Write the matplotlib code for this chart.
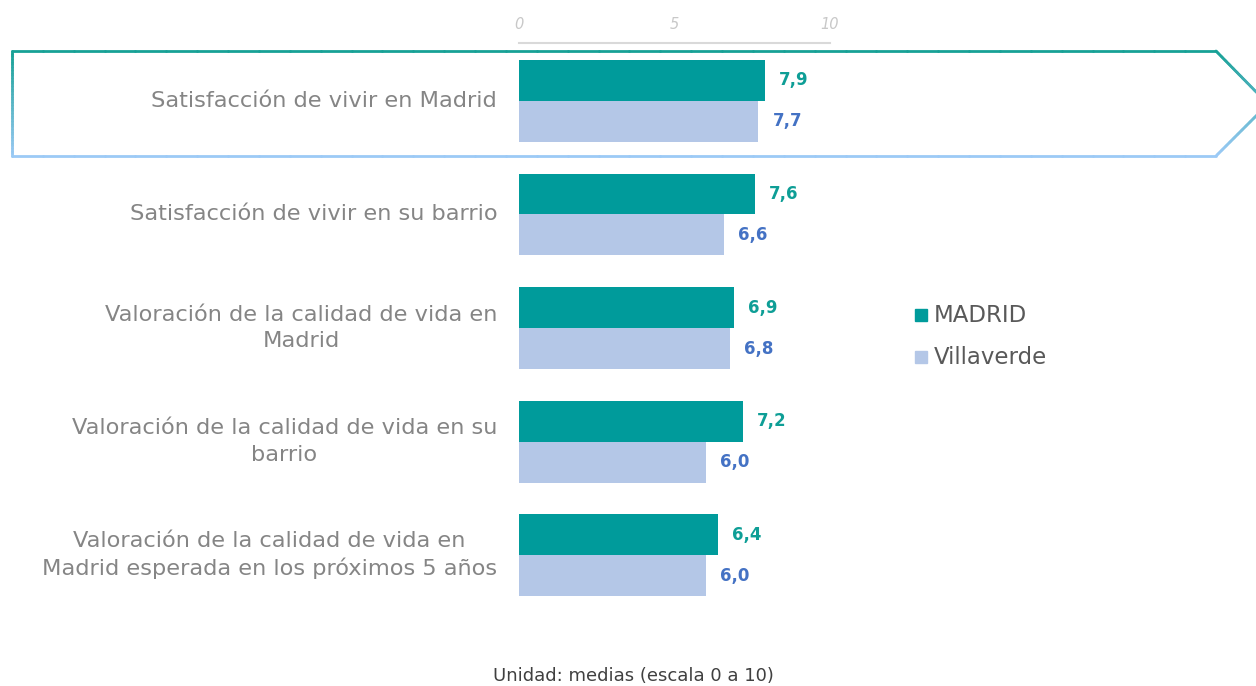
import numpy as np
import matplotlib.pyplot as plt
from matplotlib.collections import LineCollection
from matplotlib.colors import LinearSegmentedColormap
from matplotlib.patches import Rectangle

categories = [
    "Satisfacción de vivir en Madrid",
    "Satisfacción de vivir en su barrio",
    "Valoración de la calidad de vida en\nMadrid",
    "Valoración de la calidad de vida en su\nbarrio",
    "Valoración de la calidad de vida en\nMadrid esperada en los próximos 5 años",
]
madrid = [7.9, 7.6, 6.9, 7.2, 6.4]
villaverde = [7.7, 6.6, 6.8, 6.0, 6.0]
series_names = ["MADRID", "Villaverde"]
ticks = [0, 5, 10]

c_mad = "#009b9b"
c_vil = "#b4c7e7"
c_mad_txt = "#0e9e96"
c_vil_txt = "#4472c4"
FONT = "DejaVu Sans"

W, H = 1256, 686
fig = plt.figure(figsize=(W / 100, H / 100), dpi=100)

# main axes: x 519..830 px, y 43..612 px
ax = fig.add_axes([519 / W, 1 - 612 / H, 311 / W, (612 - 43) / H])
y = np.arange(len(categories))
h = 0.36
ax.barh(y - h / 2, madrid, height=h, color=c_mad, label=series_names[0])
ax.barh(y + h / 2, villaverde, height=h, color=c_vil, label=series_names[1])
ax.set_xlim(0, 10)
ax.set_ylim(4.5, -0.51)

for i, (m, v) in enumerate(zip(madrid, villaverde)):
    ax.text(m + 0.45, i - h / 2, f"{m:.1f}".replace(".", ","), va="center", ha="left",
            color=c_mad_txt, fontsize=12, fontweight="bold", family=FONT, clip_on=False)
    ax.text(v + 0.45, i + h / 2, f"{v:.1f}".replace(".", ","), va="center", ha="left",
            color=c_vil_txt, fontsize=12, fontweight="bold", family=FONT, clip_on=False)
    ax.text(-0.7, i, categories[i], va="center", ha="right", multialignment="center",
            color="#858585", fontsize=16.2, family=FONT, linespacing=1.4, clip_on=False)

ax.set_yticks([])
ax.xaxis.tick_top()
ax.set_xticks(ticks)
ax.set_xticklabels([str(t) for t in ticks], fontstyle="italic", color="#c8c8c8",
                   fontsize=10.5, family=FONT)
ax.tick_params(axis="x", length=0, pad=8)
for s in ["right", "bottom", "left"]:
    ax.spines[s].set_visible(False)
ax.spines["top"].set_color("#d9d9d9")
ax.spines["top"].set_linewidth(1.5)

# highlight frame around first category (gradient teal -> light blue)
ov = fig.add_axes([0, 0, 1, 1])
ov.set_xlim(0, W)
ov.set_ylim(H, 0)
ov.axis("off")
ov.patch.set_alpha(0)
pts = np.array([[12, 51], [1216, 51], [1268, 104], [1216, 156], [12, 156], [12, 51]], dtype=float)
segs = []
cols = []
for a, b in zip(pts[:-1], pts[1:]):
    tt = np.linspace(0, 1, 40)
    for t0, t1 in zip(tt[:-1], tt[1:]):
        p0 = a + (b - a) * t0
        p1 = a + (b - a) * t1
        segs.append([p0, p1])
        cols.append(((p0[1] + p1[1]) / 2 - 51) / 105)
cmap = LinearSegmentedColormap.from_list("fr", ["#17a196", "#9ccaf6"])
lc = LineCollection(segs, colors=cmap(np.array(cols)), linewidths=2, capstyle="round")
ov.add_collection(lc)

# legend
for yy, col, name in [(315, c_mad, series_names[0]), (357, c_vil, series_names[1])]:
    ov.add_patch(Rectangle((915, yy - 6), 12, 12, color=col))
    ov.text(934, yy, name, va="center", ha="left", fontsize=16.5, color="#595959", family=FONT)

ov.text(633, 676, "Unidad: medias (escala 0 a 10)", ha="center", va="center",
        fontsize=13, color="#404040", family=FONT)

fig.savefig("out.png", dpi=100)
